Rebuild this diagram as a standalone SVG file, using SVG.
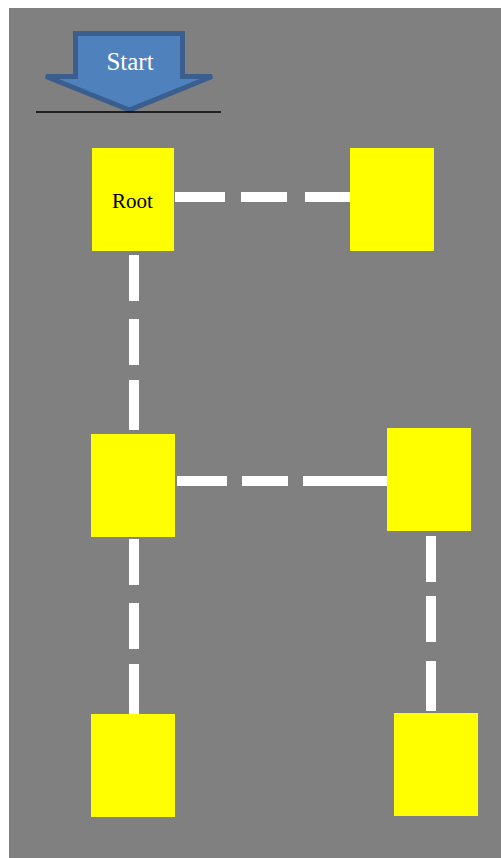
<svg xmlns="http://www.w3.org/2000/svg" width="501" height="858" viewBox="0 0 501 858">
<style>
.node{fill:#ffff00}
.lbl{font-family:"Liberation Serif","Times New Roman",serif;text-anchor:middle}
.conn line{stroke:#ffffff;stroke-width:10;fill:none}
</style>
<rect x="0" y="0" width="501" height="858" fill="#ffffff"/>
<rect x="9" y="8" width="492" height="850" fill="#808080"/>
<g id="start">
<polygon points="75.5,33.5 182.5,33.5 182.5,76.5 212,76.5 129.5,110 46,76.5 75.5,76.5" fill="#4f81bd" stroke="#3a5f8f" stroke-width="5" stroke-linejoin="miter"/>
<text class="lbl" x="130" y="70" font-size="25" fill="#ffffff">Start</text>
<line x1="36" y1="112" x2="221" y2="112" stroke="#000000" stroke-width="1.5"/>
</g>
<g class="conn" id="connectors">
<line x1="175" y1="197" x2="351" y2="197" stroke-dasharray="50 16 46 18 46 100"/>
<line x1="134" y1="255" x2="134" y2="430" stroke-dasharray="46 18 46 15 50 100"/>
<line x1="177" y1="481" x2="387" y2="481" stroke-dasharray="50 15 46 15 84 100"/>
<line x1="134" y1="539" x2="134" y2="714" stroke-dasharray="46 18 46 15 50 100"/>
<line x1="431" y1="536" x2="431" y2="711" stroke-dasharray="46 14 46 19 50 100"/>
</g>
<g id="root">
<rect class="node" x="92" y="148" width="82" height="103"/>
<text class="lbl" x="132.5" y="208" font-size="21" fill="#000000">Root</text>
</g>
<g id="node-top-right"><rect class="node" x="350" y="148" width="84" height="103"/></g>
<g id="node-mid-left"><rect class="node" x="91" y="434" width="84" height="103"/></g>
<g id="node-mid-right"><rect class="node" x="387" y="428" width="84" height="103"/></g>
<g id="node-bottom-left"><rect class="node" x="91" y="714" width="84" height="103"/></g>
<g id="node-bottom-right"><rect class="node" x="394" y="713" width="84" height="103"/></g>
</svg>
